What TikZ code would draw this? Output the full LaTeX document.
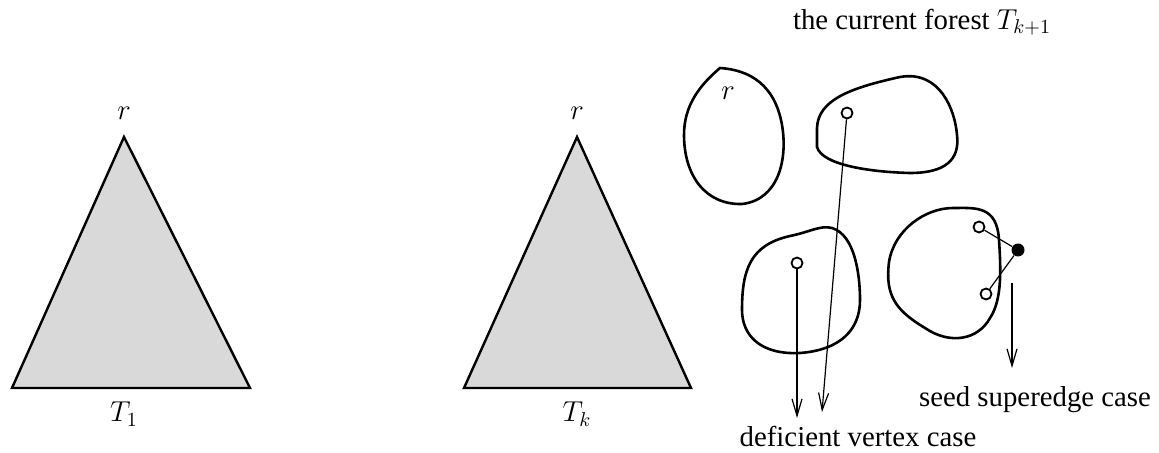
\documentclass[tikz,border=0pt]{standalone}
\usepackage{fontspec}
\setmainfont{Liberation Serif}
\usetikzlibrary{arrows.meta}
\begin{document}
\begin{tikzpicture}[x=0.5pt,y=-0.5pt,
  tree/.style={draw=black,fill=black!15,line width=1.2pt,line join=miter},
  blob/.style={draw=black,line width=1.3pt},
  hole/.style={circle,draw=black,line width=0.9pt,fill=white,inner sep=0pt,minimum size=5.5pt},
  seed/.style={circle,fill=black,inner sep=0pt,minimum size=6.5pt},
  link/.style={line width=0.6pt},
  down/.style={line width=0.6pt,-{Straight Barb[length=8.5pt,width=5pt]}},
  lbl/.style={font=\fontsize{14.4}{17}\selectfont,inner sep=0pt}]
\useasboundingbox (0,0) rectangle (1159,453);
% left tree
\draw[tree] (124,137) -- (12,388) -- (250,388) -- cycle;
\node[lbl] (r1) at (124,113) {$r$};
\node[lbl] (t1) at (124,414) {$T_1$};
% middle tree
\draw[tree] (577,137) -- (464,388) -- (691,388) -- cycle;
\node[lbl] (r2) at (577,113) {$r$};
\node[lbl] (tk) at (577,414) {$T_k$};
% title
\node[lbl] (title) at (922,22) {the current forest $T_{k+1}$};
% blob 1
\draw[blob] (720,68) .. controls (750,70) and (775,85) .. (782,125)
  .. controls (788,160) and (778,200) .. (742,204)
  .. controls (705,205) and (684,175) .. (684,135)
  .. controls (684,105) and (700,85) .. (720,68) -- cycle;
\node[lbl] (r3) at (728,93) {$r$};
% blob 2
\draw[blob] (817,147) -- (817,128)
  .. controls (818,100) and (850,88) .. (900,77)
  .. controls (940,70) and (955,110) .. (957,135)
  .. controls (960,160) and (945,173) .. (910,173)
  .. controls (870,172) and (822,165) .. (817,147) -- cycle;
% blob 3
\draw[blob] (832,228) .. controls (855,235) and (860,275) .. (860,300)
  .. controls (860,330) and (840,350) .. (800,353)
  .. controls (760,355) and (742,335) .. (742,310)
  .. controls (742,270) and (750,245) .. (790,236)
  .. controls (810,232) and (820,225) .. (832,228) -- cycle;
% blob 4
\draw[blob] (953,208) .. controls (975,208) and (997,205) .. (999,240)
  .. controls (1001,270) and (1002,300) .. (990,318)
  .. controls (978,340) and (950,345) .. (925,328)
  .. controls (895,310) and (885,295) .. (889,262)
  .. controls (894,230) and (925,208) .. (953,208) -- cycle;
% vertices
\node[hole] (v2) at (847,113) {};
\node[hole] (v3) at (797,263) {};
\node[hole] (v4a) at (979,227) {};
\node[hole] (v4b) at (986,294) {};
\node[seed] (s) at (1018,250) {};
\draw[link] (v4a) -- (s) -- (v4b);
% arrows
\coordinate (e3) at (797,418);
\coordinate (e2) at (822,412);
\coordinate (sa) at (1012,283);
\coordinate (se) at (1012,368);
\draw[down] (v3) -- (e3);
\draw[down] (v2) -- (e2);
\draw[down] (sa) -- (se);
% labels
\node[lbl] (dv) at (858,437) {deficient vertex case};
\node[lbl] (ss) at (1035,400) {seed superedge case};
\end{tikzpicture}
\end{document}
